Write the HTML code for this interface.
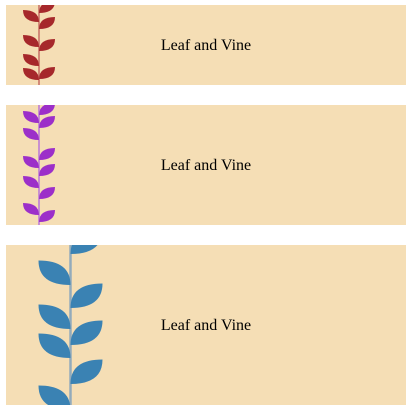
<!DOCTYPE html>
<html><head><meta charset="utf-8"><style>
html,body{margin:0;padding:0;background:#fff;width:416px;height:417px;overflow:hidden}
.panel{position:absolute;left:6px;width:400px;background:#f5deb5;overflow:hidden}
.panel svg{position:absolute;left:0;top:0}
.label{position:absolute;left:0;width:400px;text-align:center;font-family:"Liberation Serif",serif;font-size:16px;color:#000}
</style></head><body>
<div class="panel" id="p1" style="top:5px;height:80px"></div>
<div class="panel" id="p2" style="top:105px;height:120px"></div>
<div class="panel" id="p3" style="top:245px;height:160px"></div>
<script>
var NS='http://www.w3.org/2000/svg';
var panels=[
 {id:'p1',top:5,h:80,stem:33,col:'#a6282b',stemCol:'#d28a78',w:16,lh:12,sw:2,
  left:[22,47,66,80],right:[13,29,51,79]},
 {id:'p2',top:105,h:120,stem:33,col:'#9c2fc9',stemCol:'#c890d0',w:16,lh:12,sw:2,
  left:[123,140,168,188,215],right:[115,128,160,176,199,222]},
 {id:'p3',top:245,h:160,stem:64.5,col:'#3a82b3',stemCol:'#93abbb',w:32,lh:24.5,sw:2.5,
  left:[285,329,358,410],right:[254,308,345,384]}
];
panels.forEach(function(p){
  var div=document.getElementById(p.id);
  var svg=document.createElementNS(NS,'svg');
  svg.setAttribute('width',400);svg.setAttribute('height',p.h);
  
  
  var st=document.createElementNS(NS,'rect');
  st.setAttribute('x',p.stem-p.sw/2);st.setAttribute('y',0);st.setAttribute('width',p.sw);st.setAttribute('height',p.h);
  st.setAttribute('fill',p.stemCol);
  
  
  svg.appendChild(st);
  function leaf(yb,dir){
    var x0=p.stem,y0=yb-p.top,x1=p.stem+dir*p.w,y1=y0-p.lh;
    var d='M'+x0+','+y0+' Q'+x1+','+y0+' '+x1+','+y1+' Q'+x0+','+y1+' '+x0+','+y0+'Z';
    var path=document.createElementNS(NS,'path');
    path.setAttribute('d',d);path.setAttribute('fill',p.col);
    
    
    svg.appendChild(path);
  }
  p.left.forEach(function(y){leaf(y,-1);});
  p.right.forEach(function(y){leaf(y,1);});
  div.appendChild(svg);
  var t=document.createElement('div');
  t.className='label';
  t.textContent='Leaf and Vine';
  t.style.top=(p.h/2-8)+'px';
  
  
  div.appendChild(t);
});
</script>
</body></html>
